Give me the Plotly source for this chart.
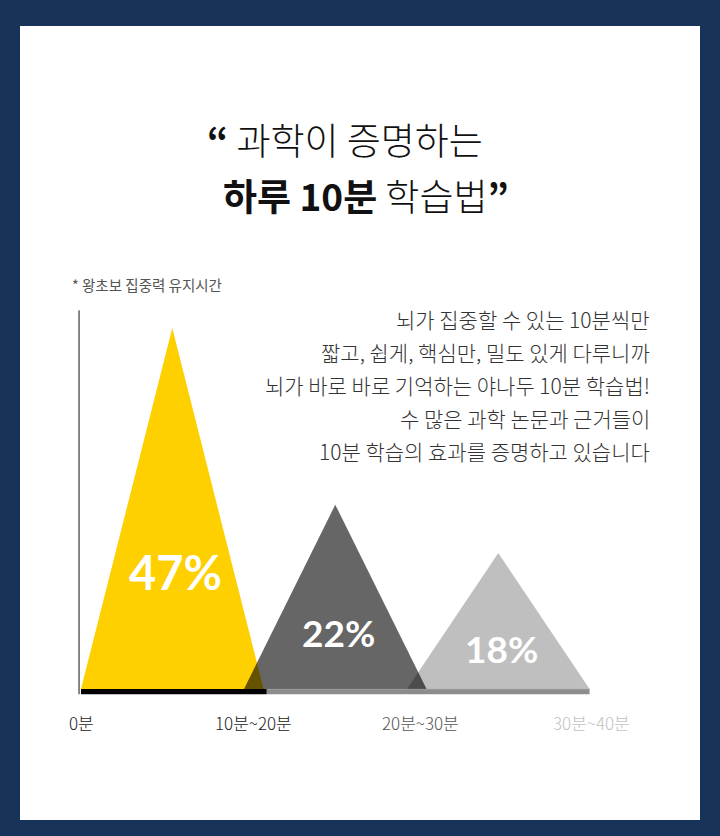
import plotly.graph_objects as go

# ---------------- data ----------------
tri_start = [0, 10, 20]          # minutes, left base of each triangle
tri_end = [11.2, 21.2, 31.2]     # minutes, right base
peak_heights = [47, 24, 17.7]    # apex heights as drawn
pct_labels = ["47%", "22%", "18%"]
tick_vals = [0, 10.6, 20.8, 31.3]
tick_labels = ["0분", "10분~20분", "20분~30분", "30분~40분"]
bar_segments = [(0, 11.4), (11.4, 31.2)]
body_lines = [
    "뇌가 집중할 수 있는 10분씩만",
    "짧고, 쉽게, 핵심만, 밀도 있게 다루니까",
    "뇌가 바로 바로 기억하는 야나두 10분 학습법!",
    "수 많은 과학 논문과 근거들이",
    "10분 학습의 효과를 증명하고 있습니다",
]

# ---------------- styles ----------------
W, H = 720, 836
NAVY = "#17335a"
KR = "Noto Sans CJK KR"
tri_fill = ["#FFD000", "rgba(0,0,0,0.6)", "rgba(0,0,0,0.25)"]
pct_sizes = [47, 37, 37]
pct_y = [15.2, 7.4, 5.3]
tick_colors = ["#222222", "#222222", "#555555", "#c2c2c2"]
bar_colors = ["#000000", "#8c8c8c"]

# axis mapping: px_x = 81 + 16.3*t ; px_y = 689 - 7.68*v
XS, X0 = 16.3, 81
YS, Y0 = 7.68, 689
x_range = [(0 - X0) / XS, (W - X0) / XS]
y_range = [(Y0 - H) / YS, Y0 / YS]


def px(x, y):
    return x / W, 1 - y / H


fig = go.Figure()

for s, e, h, c in zip(tri_start, tri_end, peak_heights, tri_fill):
    fig.add_trace(go.Scatter(
        x=[s, (s + e) / 2, e, s], y=[0, h, 0, 0],
        fill="toself", fillcolor=c, mode="lines", line=dict(width=0),
        hoverinfo="skip", showlegend=False))

shapes = [
    dict(type="rect", xref="paper", yref="paper", x0=20 / W, x1=700 / W,
         y0=1 - 820 / H, y1=1 - 26 / H, fillcolor="white", line=dict(width=0),
         layer="below"),
]
for (a, b), col in zip(bar_segments, bar_colors):
    shapes.append(dict(type="rect", xref="x", yref="y", x0=a, x1=b, y0=-0.68, y1=0,
                       fillcolor=col, line=dict(width=0), layer="above"))
shapes.append(dict(type="line", xref="x", yref="y", x0=bar_segments[1][0], x1=bar_segments[1][1],
                   y0=-0.05, y1=-0.05, line=dict(color="#9a9a9a", width=1), layer="above"))
shapes.append(dict(type="line", xref="x", yref="y", x0=-0.12, x1=-0.12, y0=-0.68, y1=49.3,
                   line=dict(color="#111111", width=1), layer="above"))

ann = []
tx, ty = px(345, 139)
ann.append(dict(x=tx, y=ty, xref="paper", yref="paper", showarrow=False,
                text="<b>“</b> 과학이 증명하는", xanchor="center", yanchor="middle",
                font=dict(family=KR, size=37, color="#111111", weight=300)))
tx, ty = px(366, 195)
ann.append(dict(x=tx, y=ty, xref="paper", yref="paper", showarrow=False,
                text="<b>하루 10분</b> 학습법<b>”</b>", xanchor="center", yanchor="middle",
                font=dict(family=KR, size=37, color="#111111", weight=300)))
tx, ty = px(70, 284)
ann.append(dict(x=tx, y=ty, xref="paper", yref="paper", showarrow=False,
                text="* 왕초보 집중력 유지시간", xanchor="left", yanchor="middle",
                font=dict(family=KR, size=14.5, color="#555555")))
for i, line in enumerate(body_lines):
    tx, ty = px(652, 319 + i * 33)
    ann.append(dict(x=tx, y=ty, xref="paper", yref="paper", showarrow=False,
                    text=line, xanchor="right", yanchor="middle",
                    font=dict(family=KR, size=21, color="#333333", weight=300)))
for s, e, lab, sz, yy in zip(tri_start, tri_end, pct_labels, pct_sizes, pct_y):
    ann.append(dict(x=(s + e) / 2 + 0.2, y=yy, xref="x", yref="y", showarrow=False,
                    text="<b>" + lab + "</b>", xanchor="center", yanchor="middle",
                    font=dict(family="Lato", size=sz, color="white")))
for v, lab, col in zip(tick_vals, tick_labels, tick_colors):
    ann.append(dict(x=v, y=-4.3, xref="x", yref="y", showarrow=False,
                    text=lab, xanchor="center", yanchor="middle",
                    font=dict(family=KR, size=17, color=col, weight=300)))

fig.update_layout(
    width=W, height=H, margin=dict(l=0, r=0, t=0, b=0),
    paper_bgcolor=NAVY, plot_bgcolor="rgba(0,0,0,0)",
    xaxis=dict(range=x_range, visible=False, fixedrange=True),
    yaxis=dict(range=y_range, visible=False, fixedrange=True),
    shapes=shapes, annotations=ann, showlegend=False,
)

fig.write_html("out.html", config={"displayModeBar": False},
               post_script="document.body.style.margin='0';document.body.style.overflow='hidden';")
